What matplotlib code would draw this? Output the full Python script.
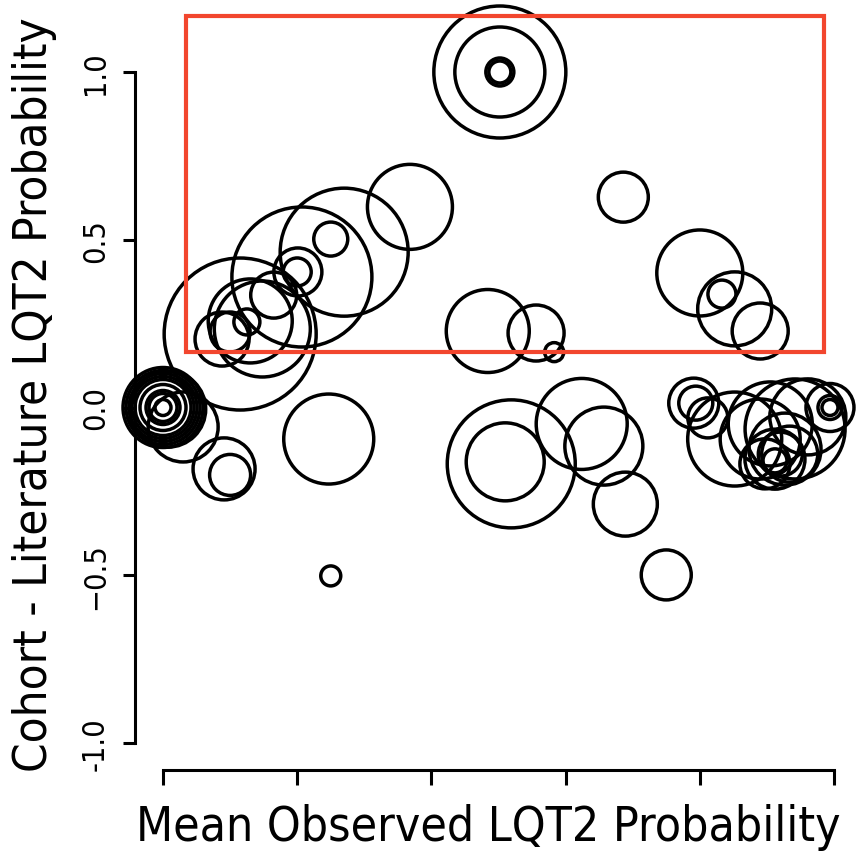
import matplotlib
matplotlib.use('Agg')
import matplotlib.pyplot as plt
from matplotlib.patches import Rectangle

DPI = 100
W, H = 858, 854

# mean observed probability, cohort - literature difference, bubble radius (px)
obs = [0.0, 0.0, 0.0, 0.0, 0.0, 0.0, 0.0, 0.0, 0.0, 0.007, 0.030,
       0.091, 0.100, 0.247, 0.250,
       0.368, 0.270, 0.250, 0.207, 0.201, 0.200, 0.165,
       0.115, 0.148, 0.130, 0.088, 0.100, 0.125,
       0.502, 0.502, 0.502, 0.502,
       0.484, 0.556, 0.583, 0.519, 0.510, 0.624, 0.657, 0.689, 0.750,
       0.686, 0.800, 0.833, 0.852, 0.890,
       0.791, 0.794, 0.812, 0.852, 0.905, 0.994, 0.994, 0.994, 0.942,
       0.961, 0.890, 0.912, 0.920, 0.912, 0.927, 0.897, 0.934]
diff = [0.0, 0.0, 0.0, 0.0, 0.0, 0.0, 0.0, 0.0, 0.0, -0.005, -0.058,
        -0.183, -0.201, -0.094, -0.502,
        0.598, 0.463, 0.502, 0.389, 0.404, 0.404, 0.335,
        0.219, 0.234, 0.258, 0.204, 0.225, 0.255,
        1.0, 1.0, 1.0, 1.0,
        0.228, 0.222, 0.165, -0.168, -0.162, -0.049, -0.115, -0.288, -0.499,
        0.627, 0.401, 0.338, 0.294, 0.228,
        0.013, 0.013, -0.031, -0.094, -0.049, 0.0, 0.0, 0.0, -0.064,
        -0.028, -0.094, -0.159, -0.139, -0.154, -0.124, -0.168, -0.139]
radius = [8, 14, 17, 23, 28, 31, 34, 37, 40, 38, 35,
          31, 20.5, 45, 10,
          42.5, 64, 17, 70, 24, 14, 23,
          76, 48, 42, 27, 20, 13,
          66, 45, 14, 11,
          41.5, 28, 9.5, 64, 39, 45.5, 39, 32, 25,
          25, 43, 14, 37, 28,
          25, 17, 20, 47, 42, 24, 12, 8, 50,
          38, 40, 12, 22, 30, 36, 25, 28]

yticks = [-1.0, -0.5, 0.0, 0.5, 1.0]
ytick_labels = ['-1.0', '\u22120.5', '0.0', '0.5', '1.0']
xticks = [0.0, 0.2, 0.4, 0.6, 0.8, 1.0]

# highlighted region
box_x = (0.034, 0.985)
box_y = (0.165, 1.167)

plt.rcParams['font.family'] = ['DejaVu Sans']
plt.rcParams['font.stretch'] = 'condensed'

fig = plt.figure(figsize=(W / DPI, H / DPI), dpi=DPI)
ax = fig.add_axes([135 / W, (H - 771) / H, 723 / W, 771 / H])
ax.set_xlim((135 - 163) / 671, (858 - 163) / 671)
ax.set_ylim((408.5 - 771) / 335.5, 408.5 / 335.5)

sizes = [(2 * r * 72 / DPI) ** 2 for r in radius]
ax.scatter(obs, diff, s=sizes, facecolors='none', edgecolors='black',
           linewidths=2.5, clip_on=False, zorder=3)

ax.add_patch(Rectangle((box_x[0], box_y[0]), box_x[1] - box_x[0], box_y[1] - box_y[0],
                       fill=False, edgecolor='#F2462E', linewidth=3.0, clip_on=False, zorder=4))

for s in ['top', 'right']:
    ax.spines[s].set_visible(False)
ax.spines['left'].set_bounds(-1, 1)
ax.spines['bottom'].set_bounds(0, 1)
for s in ['left', 'bottom']:
    ax.spines[s].set_linewidth(2.2)

ax.set_xticks(xticks)
ax.set_xticklabels([])
ax.tick_params(axis='x', length=11, width=2.2, direction='out')
ax.set_yticks(yticks)
ax.set_yticklabels(ytick_labels, rotation=90, va='center', fontsize=22)
ax.tick_params(axis='y', length=9, width=2.2, direction='out', pad=9)

fig.text(35 / W, 1 - 395 / H, 'Cohort - Literature LQT2 Probability', rotation=90,
         ha='center', va='center', fontsize=34)
fig.text(488 / W, 1 - 828 / H, 'Mean Observed LQT2 Probability',
         ha='center', va='center', fontsize=34.5)

fig.savefig('out.png', dpi=DPI)
